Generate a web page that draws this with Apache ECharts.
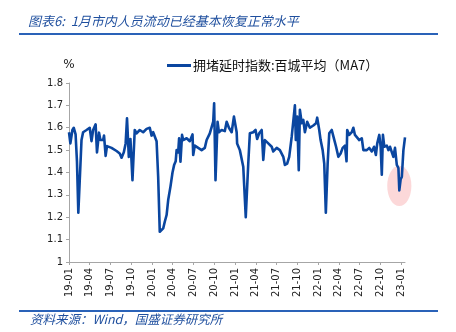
<!DOCTYPE html>
<html><head><meta charset="utf-8">
<script src="https://cdn.jsdelivr.net/npm/echarts@6/dist/echarts.min.js"></script>
<style>html,body{margin:0;padding:0;background:#fff}#c{width:456px;height:332px}</style>
</head><body><div id="c"></div>
<script>
const titleText = '图表6:  1月市内人员流动已经基本恢复正常水平';
const sourceText = '资料来源：Wind，国盛证券研究所';
const seriesName = '拥堵延时指数:百城平均（MA7）';
const yAxisName = '%';
const startDate = '2019-01-01';
const endDate = '2023-01-17';
const yMin = 1, yMax = 1.8, yStep = 0.1;
const tickMonths = ['01', '04', '07', '10'];
const highlightDate = '2022-12-23';
const highlightValue = 1.34;

const pointDates = [
 '2019-01-01','2019-01-07','2019-01-16','2019-01-22','2019-01-30','2019-02-05','2019-02-11','2019-02-25','2019-03-04','2019-03-19',
 '2019-04-02','2019-04-10','2019-04-17','2019-04-28','2019-05-04','2019-05-13','2019-05-19','2019-05-31','2019-06-04','2019-06-11',
 '2019-06-17','2019-07-07','2019-07-29','2019-08-12','2019-08-20','2019-08-30','2019-09-07','2019-09-13','2019-09-21','2019-09-28',
 '2019-10-07','2019-10-17','2019-10-25','2019-11-08','2019-11-23','2019-12-08','2019-12-22','2019-12-30','2020-01-06','2020-01-14',
 '2020-01-21','2020-01-28','2020-02-04','2020-02-19','2020-02-26','2020-03-05','2020-03-12','2020-03-22','2020-03-31','2020-04-07',
 '2020-04-14','2020-04-18','2020-04-25','2020-04-29','2020-05-05','2020-05-12','2020-05-17','2020-06-01','2020-06-15','2020-06-27',
 '2020-06-30','2020-07-07','2020-07-22','2020-08-06','2020-08-20','2020-08-28','2020-09-11','2020-09-26','2020-09-30','2020-10-06',
 '2020-10-15','2020-10-21','2020-11-02','2020-11-16','2020-11-24','2020-12-04','2020-12-16','2020-12-26','2021-01-07','2021-01-09',
 '2021-01-21','2021-02-05','2021-02-16','2021-02-27','2021-03-06','2021-03-21','2021-03-31','2021-04-07','2021-04-16','2021-04-27',
 '2021-05-04','2021-05-11','2021-05-26','2021-06-10','2021-06-17','2021-07-02','2021-07-16','2021-07-31','2021-08-07','2021-08-17',
 '2021-08-26','2021-09-06','2021-09-13','2021-09-20','2021-09-24','2021-09-30','2021-10-07','2021-10-12','2021-10-20','2021-10-27',
 '2021-11-03','2021-11-13','2021-11-25','2021-12-10','2021-12-22','2021-12-27','2022-01-05','2022-01-11','2022-01-20','2022-01-27',
 '2022-02-03','2022-02-11','2022-02-18','2022-03-01','2022-03-11','2022-03-20','2022-03-30','2022-04-09','2022-04-18','2022-04-28',
 '2022-05-05','2022-05-08','2022-05-17','2022-05-28','2022-06-04','2022-06-11','2022-06-19','2022-06-30','2022-07-11','2022-07-18',
 '2022-08-02','2022-08-13','2022-08-24','2022-09-03','2022-09-11','2022-09-17','2022-09-26','2022-10-02','2022-10-07','2022-10-12',
 '2022-10-18','2022-10-29','2022-11-05','2022-11-12','2022-11-20','2022-11-27','2022-12-04','2022-12-12','2022-12-19','2022-12-23',
 '2022-12-29','2023-01-03','2023-01-10','2023-01-17'
];
const pointValues = [
 1.58,1.53,1.59,1.60,1.57,1.45,1.22,1.545,1.58,1.59,
 1.60,1.54,1.59,1.615,1.49,1.578,1.545,1.545,1.565,1.474,
 1.518,1.51,1.496,1.485,1.466,1.49,1.53,1.642,1.47,1.55,
 1.366,1.59,1.575,1.59,1.58,1.595,1.60,1.565,1.58,1.58,
 1.54,1.38,1.135,1.15,1.18,1.21,1.277,1.337,1.40,1.433,
 1.45,1.50,1.49,1.553,1.448,1.568,1.545,1.553,1.54,1.57,
 1.478,1.52,1.51,1.50,1.51,1.545,1.575,1.627,1.709,1.366,
 1.627,1.58,1.59,1.585,1.627,1.60,1.58,1.65,1.58,1.53,
 1.50,1.426,1.20,1.44,1.575,1.58,1.59,1.55,1.575,1.59,
 1.456,1.545,1.53,1.515,1.494,1.51,1.50,1.47,1.434,1.44,
 1.47,1.56,1.63,1.70,1.545,1.65,1.41,1.68,1.62,1.635,
 1.58,1.627,1.60,1.61,1.62,1.645,1.59,1.545,1.50,1.44,
 1.22,1.44,1.575,1.59,1.55,1.515,1.47,1.485,1.51,1.52,
 1.45,1.59,1.568,1.58,1.60,1.568,1.575,1.545,1.553,1.50,
 1.50,1.51,1.494,1.515,1.478,1.53,1.568,1.515,1.39,1.568,
 1.515,1.52,1.50,1.515,1.51,1.47,1.51,1.434,1.42,1.32,
 1.37,1.38,1.50,1.557
];

// daily category axis
const categories = [];
(function () {
  let t = Date.parse(startDate + 'T00:00:00Z');
  const end = Date.parse(endDate + 'T00:00:00Z');
  while (t <= end) { categories.push(new Date(t).toISOString().slice(0, 10)); t += 86400000; }
})();
const isTick = (idx, val) => tickMonths.indexOf(val.slice(5, 7)) >= 0 && val.slice(8, 10) === '01';

const chart = echarts.init(document.getElementById('c'), null, { renderer: 'canvas' });
const blue = '#0a46a0';
chart.setOption({
  animation: false,
  backgroundColor: '#fff',
  grid: { left: 69, right: 51, top: 83, bottom: 70 },
  legend: {
    left: 167, top: 59, padding: 0, icon: 'rect', itemWidth: 24, itemHeight: 3, itemGap: 10,
    textStyle: { fontSize: 13, color: '#111', fontFamily: '"Noto Sans CJK SC", sans-serif', padding: [0, 0, 0, -3] },
    data: [seriesName]
  },
  xAxis: {
    type: 'category', data: categories, boundaryGap: false,
    axisLine: { lineStyle: { color: '#a6a6a6', width: 1 } },
    axisTick: { interval: isTick, length: 3, lineStyle: { color: '#a6a6a6' } },
    axisLabel: { interval: isTick, rotate: 90, fontSize: 10, color: '#222', margin: 6,
      fontFamily: 'DejaVu Sans', formatter: v => v.slice(2, 7) },
    splitLine: { show: false }
  },
  yAxis: {
    type: 'value', min: yMin, max: yMax, interval: yStep,
    name: yAxisName, nameLocation: 'end', nameGap: 12,
    nameTextStyle: { fontSize: 12, color: '#222', fontFamily: 'DejaVu Sans', align: 'center' },
    axisLine: { show: true, lineStyle: { color: '#a6a6a6', width: 1 } },
    axisTick: { show: true, length: 3, lineStyle: { color: '#a6a6a6' } },
    axisLabel: { fontSize: 10, color: '#222', margin: 6, fontFamily: 'DejaVu Sans',
      formatter: v => String(+v.toFixed(1)) },
    splitLine: { show: false }
  },
  series: [{
    name: seriesName, type: 'line', showSymbol: false, symbol: 'none', z: 5,
    lineStyle: { color: blue, width: 2.6, join: 'round' }, itemStyle: { color: blue },
    data: pointDates.map((d, i) => [d, pointValues[i]])
  }],
  graphic: [
    { type: 'text', id: 'title', left: 28, top: 15,
      style: { text: titleText, fill: '#1f4f9e', font: 'italic 13px "Noto Sans CJK SC", sans-serif' } },
    { type: 'line', id: 'tline', shape: { x1: 19, y1: 34, x2: 438, y2: 34 }, style: { stroke: '#2a62b8', lineWidth: 2 } },
    { type: 'line', id: 'bline', shape: { x1: 19, y1: 311, x2: 438, y2: 311 }, style: { stroke: '#2a62b8', lineWidth: 2 } },
    { type: 'text', id: 'src', left: 30, top: 313,
      style: { text: sourceText, fill: '#1f4f9e', font: 'italic 12.5px "Noto Sans CJK SC", sans-serif' } }
  ]
});
const hp = chart.convertToPixel({ gridIndex: 0 }, [categories.indexOf(highlightDate), highlightValue]);
const hTop = chart.convertToPixel({ gridIndex: 0 }, [categories.indexOf(highlightDate), highlightValue + 0.09]);
const ry = hp[1] - hTop[1];
chart.setOption({ graphic: [{ type: 'ellipse', id: 'hl', z: 1, shape: { cx: hp[0], cy: hp[1], rx: ry * 0.6, ry: ry },
  style: { fill: 'rgba(250,190,192,0.6)' } }] });
</script></body></html>
